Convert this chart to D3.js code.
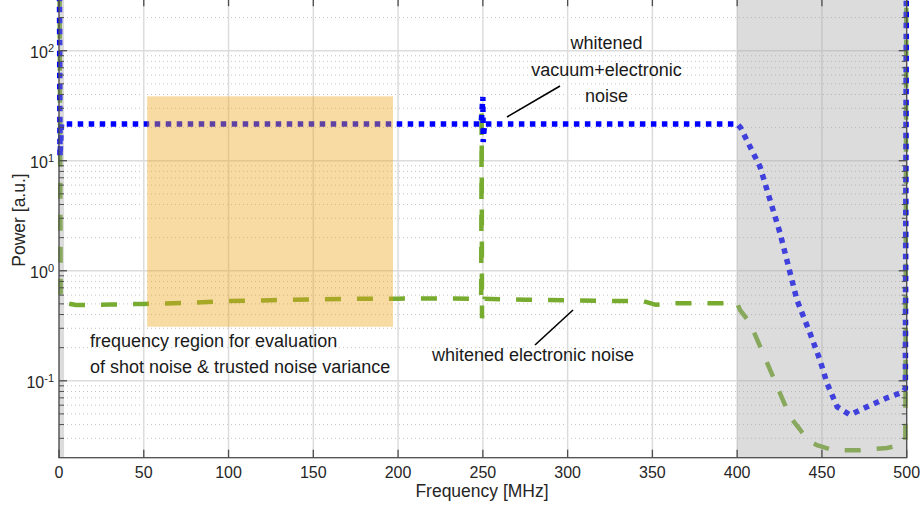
<!DOCTYPE html>
<html>
<head>
<meta charset="utf-8">
<script src="https://cdn.jsdelivr.net/npm/d3@7"></script>
<style>
    body { margin: 0; background: #fff; }
    svg { display: block; font-family: "Liberation Sans", Arial, sans-serif; }
</style>
</head>
<body>
<div class="chart"></div>
<script>
// values (frequency in MHz, power in a.u.)
const vacFreq  = [0, 0.6, 1.5, 50, 100, 150, 200, 249, 250, 250.2, 251, 300, 350, 400,
                  402, 413.5, 419.4, 425.3, 435.3, 443, 448.8, 453, 459, 466.5, 476.6, 488.4, 497.8, 499.2, 500];
const vacPower = [1e4, 11, 21.6, 21.6, 21.6, 21.6, 21.6, 21.6, 38, 14.8, 21.6, 21.6, 21.6, 21.6,
                  20, 8.8, 4.4, 2.2, 0.54, 0.27, 0.155, 0.095, 0.058, 0.049, 0.058, 0.07, 0.079, 0.085, 1e4];

const elecFreq  = [0, 1, 10, 30, 50, 75, 100, 125, 150, 175, 200, 225, 249, 249.3, 249.5, 251, 275, 300, 325, 345,
                   352, 365, 400, 401.7, 407.6, 415.2, 425.3, 431.2, 437.1, 441.2, 447.1, 456.5, 472.4, 488.4, 496, 499.2, 500];
const elecPower = [1e4, 0.52, 0.488, 0.493, 0.5, 0.51, 0.53, 0.54, 0.55, 0.556, 0.558, 0.56, 0.556, 30, 0.37, 0.556, 0.545, 0.54, 0.532, 0.528,
                   0.49, 0.508, 0.508, 0.44, 0.335, 0.179, 0.077, 0.047, 0.036, 0.029, 0.026, 0.0234, 0.0234, 0.0245, 0.026, 0.028, 1e4];

const xTicks = [0, 50, 100, 150, 200, 250, 300, 350, 400, 450, 500];
const yTickExps = [-1, 0, 1, 2];

const evalBand = [52, 197];
const evalPower = [0.31, 38.5];
const cutoffBand = [400, 500];
const dcBand = [0, 3];

const vacLabel = ["whitened", "vacuum+electronic", "noise"];
const elecLabel = "whitened electronic noise";
const bandLabel = ["frequency region for evaluation", "of shot noise & trusted noise variance"];

const width = 921, height = 512;
const plotLeft = 59, plotRight = 906.7, plotTop = -1.8, plotBottom = 457.7;

const svg = d3.select(".chart").append("svg")
    .attr("width", width)
    .attr("height", height);

const x = d3.scaleLinear().domain([0, 500]).range([plotLeft, plotRight]);
const y = d3.scaleLog().domain([0.02, 300]).range([plotBottom, plotTop]);

// grid
const minorVals = [];
for (let e = -2; e <= 2; e++) {
    for (let m = 2; m <= 9; m++) {
        const v = m * Math.pow(10, e);
        if (v > 0.02 && v < 300) minorVals.push(v);
    }
}
const grid = svg.append("g");
grid.selectAll(".minor").data(minorVals).enter().append("line")
    .attr("x1", plotLeft).attr("x2", plotRight)
    .attr("y1", d => y(d)).attr("y2", d => y(d))
    .attr("stroke", "#c4c4c4").attr("stroke-width", 1)
    .attr("stroke-dasharray", "1,3");
grid.selectAll(".major").data(yTickExps).enter().append("line")
    .attr("x1", plotLeft).attr("x2", plotRight)
    .attr("y1", d => y(Math.pow(10, d))).attr("y2", d => y(Math.pow(10, d)))
    .attr("stroke", "#dcdcdc").attr("stroke-width", 1.5);
grid.selectAll(".vgrid").data(xTicks).enter().append("line")
    .attr("x1", d => x(d)).attr("x2", d => x(d))
    .attr("y1", plotTop).attr("y2", plotBottom)
    .attr("stroke", "#dcdcdc").attr("stroke-width", 1.5);

// lines, clipped only vertically
svg.append("clipPath").attr("id", "clip")
    .append("rect").attr("x", 0).attr("y", plotTop).attr("width", width).attr("height", plotBottom - plotTop);

const line = d3.line().x(d => x(d[0])).y(d => y(d[1]));
const plot = svg.append("g").attr("clip-path", "url(#clip)");

plot.append("path")
    .datum(elecFreq.map((f, i) => [f, elecPower[i]]))
    .attr("d", line)
    .attr("fill", "none")
    .attr("stroke", "rgb(119,172,48)")
    .attr("stroke-width", 4.5)
    .attr("stroke-dasharray", "16,16");

plot.append("path")
    .datum(vacFreq.map((f, i) => [f, vacPower[i]]))
    .attr("d", line)
    .attr("fill", "none")
    .attr("stroke", "#0000ff")
    .attr("stroke-width", 5.5)
    .attr("stroke-dasharray", "5.5,5.5");

// shaded regions drawn over the lines
svg.append("rect")
    .attr("x", x(evalBand[0])).attr("width", x(evalBand[1]) - x(evalBand[0]))
    .attr("y", y(evalPower[1])).attr("height", y(evalPower[0]) - y(evalPower[1]))
    .attr("fill", "rgb(237,162,24)").attr("opacity", 0.4);

svg.selectAll(".cut").data([cutoffBand, dcBand]).enter().append("rect")
    .attr("x", d => x(d[0])).attr("width", d => x(d[1]) - x(d[0]))
    .attr("y", plotTop).attr("height", plotBottom - plotTop)
    .attr("fill", "rgb(166,166,166)").attr("opacity", 0.39);

// axes box with inward ticks
const axisColor = "#4d4d4d";
const axes = svg.append("g").attr("stroke", axisColor);
axes.append("rect")
    .attr("x", plotLeft).attr("y", plotTop).attr("width", plotRight - plotLeft).attr("height", plotBottom - plotTop)
    .attr("fill", "none").attr("stroke-width", 1.3);

xTicks.forEach(t => {
    axes.append("line").attr("x1", x(t)).attr("x2", x(t)).attr("y1", plotBottom).attr("y2", plotBottom - 8).attr("stroke-width", 1.3);
    axes.append("line").attr("x1", x(t)).attr("x2", x(t)).attr("y1", plotTop).attr("y2", plotTop + 8).attr("stroke-width", 1.3);
});
yTickExps.forEach(e => {
    const yy = y(Math.pow(10, e));
    axes.append("line").attr("x1", plotLeft).attr("x2", plotLeft + 8).attr("y1", yy).attr("y2", yy).attr("stroke-width", 1.3);
    axes.append("line").attr("x1", plotRight).attr("x2", plotRight - 8).attr("y1", yy).attr("y2", yy).attr("stroke-width", 1.3);
});
minorVals.forEach(v => {
    const yy = y(v);
    axes.append("line").attr("x1", plotLeft).attr("x2", plotLeft + 5).attr("y1", yy).attr("y2", yy).attr("stroke-width", 1);
    axes.append("line").attr("x1", plotRight).attr("x2", plotRight - 5).attr("y1", yy).attr("y2", yy).attr("stroke-width", 1);
});

// tick labels
const textColor = "#262626";
svg.selectAll(".xlab").data(xTicks).enter().append("text")
    .attr("x", d => x(d)).attr("y", 477.5)
    .attr("text-anchor", "middle")
    .attr("font-size", 16).attr("fill", textColor)
    .text(d => d);

const ylab = svg.selectAll(".ylab").data(yTickExps).enter().append("text")
    .attr("x", 54).attr("y", d => y(Math.pow(10, d)) + 7.5)
    .attr("text-anchor", "end")
    .attr("font-size", 16).attr("fill", textColor);
ylab.append("tspan").text("10");
ylab.append("tspan").attr("dy", -6).attr("font-size", 11).text(d => d);

// axis titles
svg.append("text")
    .attr("x", 482).attr("y", 497)
    .attr("text-anchor", "middle")
    .attr("font-size", 17.5).attr("fill", textColor)
    .text("Frequency [MHz]");
svg.append("text")
    .attr("transform", "translate(25,220) rotate(-90)")
    .attr("text-anchor", "middle")
    .attr("font-size", 17.5).attr("fill", textColor)
    .text("Power [a.u.]");

// annotations
const note = svg.append("g").attr("font-size", 18).attr("fill", "#1a1a1a");
note.selectAll(".vac").data(vacLabel).enter().append("text")
    .attr("x", 606.5).attr("y", (d, i) => 49 + i * 26.5)
    .attr("text-anchor", "middle")
    .text(d => d);
note.append("text").attr("x", 432).attr("y", 361).text(elecLabel);
note.selectAll(".band").data(bandLabel).enter().append("text")
    .attr("x", 90).attr("y", (d, i) => 347 + i * 26)
    .text(d => d);

svg.append("line").attr("x1", 507).attr("y1", 117).attr("x2", 560).attr("y2", 86)
    .attr("stroke", "#000").attr("stroke-width", 1.6);
svg.append("line").attr("x1", 573).attr("y1", 310).attr("x2", 535).attr("y2", 345)
    .attr("stroke", "#000").attr("stroke-width", 1.6);
</script>
</body>
</html>
